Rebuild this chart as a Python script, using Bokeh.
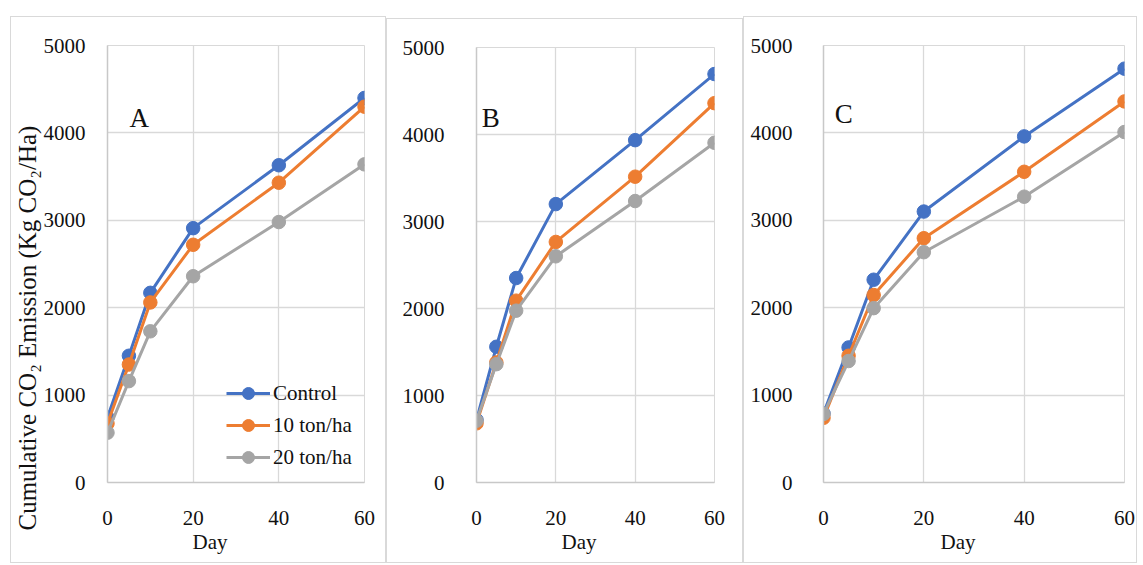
import math
from bokeh.plotting import figure
from bokeh.layouts import row
from bokeh.models import Label, Legend, LegendItem, FixedTicker, Title
from bokeh.embed import file_html
from bokeh.resources import INLINE

# ---------------- data ----------------
days = [0, 5, 10, 20, 40, 60]
series_names = ["Control", "10 ton/ha", "20 ton/ha"]
colors = ["#4472C4", "#ED7D31", "#A5A5A5"]

a_control = [745, 1450, 2170, 2910, 3630, 4400]
a_10t = [675, 1350, 2060, 2720, 3430, 4300]
a_20t = [570, 1160, 1730, 2360, 2980, 3640]

b_control = [720, 1560, 2350, 3200, 3935, 4695]
b_10t = [680, 1380, 2090, 2765, 3515, 4360]
b_20t = [710, 1360, 1975, 2600, 3235, 3905]

c_control = [790, 1545, 2320, 3100, 3960, 4735]
c_10t = [740, 1450, 2145, 2795, 3555, 4360]
c_20t = [785, 1390, 1995, 2635, 3270, 4010]

x_ticks = [0, 20, 40, 60]
y_ticks = [0, 1000, 2000, 3000, 4000, 5000]
panel_letters = ["A", "B", "C"]
x_label = "Day"
y_label = "Cumulative CO\u2082 Emission (Kg CO\u2082/Ha)"

FONT = "Liberation Serif"
GRID = "#D9D9D9"


def make_panel(series, letter, letter_pos, day_off, width, height, mb, margin):
    p = figure(width=width, height=height, x_range=(0, 60), y_range=(0, 5000),
               output_backend="svg", toolbar_location=None,
               min_border_left=mb[0], min_border_right=mb[1],
               min_border_top=mb[2], min_border_bottom=mb[3],
               background_fill_color="white", border_fill_color="white",
               outline_line_color=GRID, margin=margin,
               styles={"border": "1px solid #D9D9D9"})
    p.xaxis.ticker = FixedTicker(ticks=x_ticks)
    p.yaxis.ticker = FixedTicker(ticks=y_ticks)
    for ax in (p.xaxis, p.yaxis):
        ax.major_tick_line_color = None
        ax.minor_tick_line_color = None
        ax.axis_line_color = "#C8C8C8"
        ax.axis_line_width = 1.5
        ax.major_label_text_font = FONT
        ax.major_label_text_font_size = "21px"
        ax.major_label_text_color = "#111111"
    p.xaxis.major_label_standoff = 22
    p.yaxis.major_label_standoff = mb[4]
    p.xgrid.grid_line_color = GRID
    p.ygrid.grid_line_color = GRID
    p.xgrid.grid_line_width = 1.3
    p.ygrid.grid_line_width = 1.3

    items = []
    for name, vals, col in zip(series_names, series, colors):
        ln = p.line(days, vals, line_color=col, line_width=3)
        sc = p.scatter(days, vals, size=13.5, fill_color=col, line_color=col)
        items.append(LegendItem(label=name, renderers=[ln, sc]))

    p.add_layout(Label(x=letter_pos[0], y=letter_pos[1], text=letter,
                       text_font=FONT, text_font_size="27px",
                       text_align="center", text_baseline="middle",
                       text_color="#111111"))
    p.add_layout(Title(text=x_label, align="left", offset=day_off,
                       text_font=FONT, text_font_size="21px",
                       text_font_style="normal", text_color="#111111",
                       standoff=0), "below")
    return p, items


pa, items_a = make_panel([a_control, a_10t, a_20t], "A", (7.4, 4170), 85,
                         376, 547, (96, 23, 27, 82, 16), (16, 0, 0, 10))
pb, _ = make_panel([b_control, b_10t, b_20t], "B", (3.6, 4185), 85,
                   357, 545, (89, 30, 28, 80, 26), (18, 0, 0, 0))
pc, _ = make_panel([c_control, c_10t, c_20t], "C", (4.05, 4215), 117,
                   394, 547, (79, 14, 26, 80, 25), (16, 0, 0, 0))

legend = Legend(items=items_a, location=(119, 10), orientation="vertical",
                background_fill_alpha=0, border_line_color=None,
                padding=0, margin=0, spacing=2, glyph_width=44,
                glyph_height=30, label_height=20, label_standoff=3,
                label_text_font=FONT, label_text_font_size="21px",
                label_text_color="#111111")
pa.add_layout(legend)

pa.add_layout(Title(text=y_label, align="left", offset=-48,
                    text_font=FONT, text_font_size="25px",
                    text_font_style="normal", text_color="#111111",
                    standoff=0), "left")

layout = row(pa, pb, pc, spacing=0)
open("out.html", "w").write(file_html(layout, INLINE))
